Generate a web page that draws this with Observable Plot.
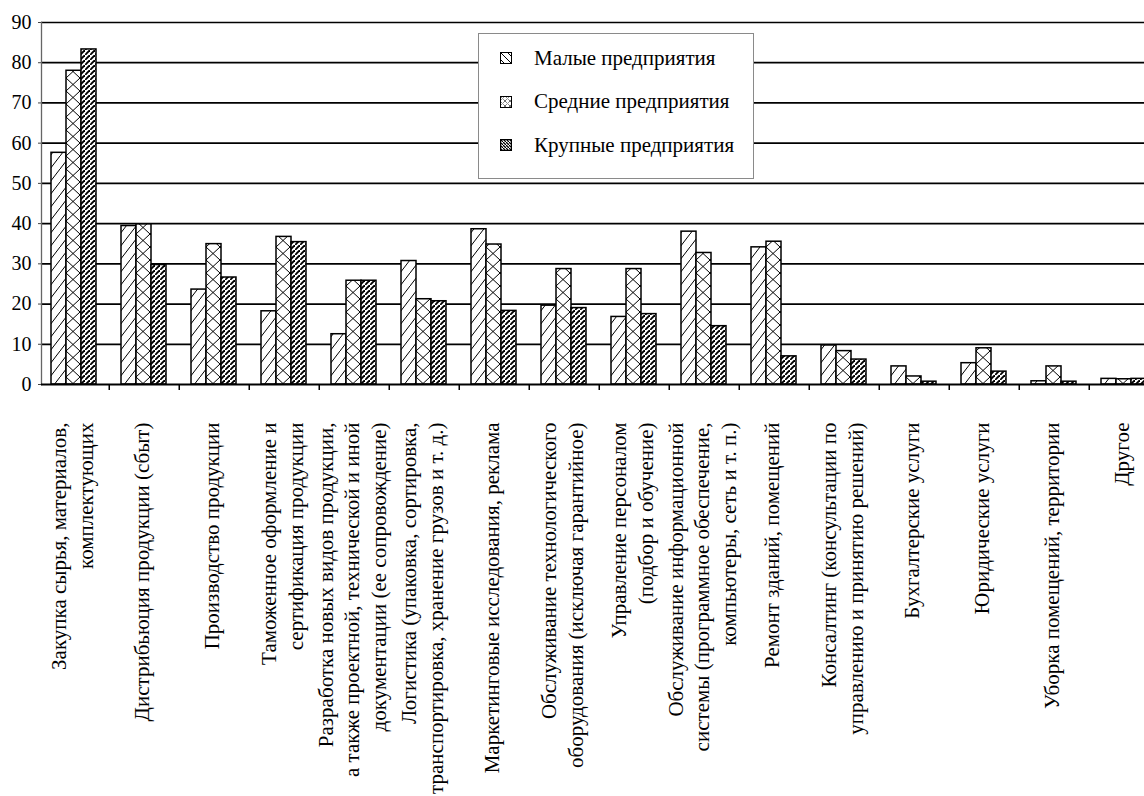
<!DOCTYPE html>
<html><head><meta charset="utf-8">
<script src="https://cdn.jsdelivr.net/npm/d3@7"></script>
<script src="https://cdn.jsdelivr.net/npm/@observablehq/plot@0.6"></script>
<style>
html,body{margin:0;padding:0;background:#fff;overflow:hidden;}
#wrap{position:relative;width:1144px;height:796px;overflow:hidden;}
#wrap > svg{position:absolute;left:0;top:0;}
#wrap svg text{font-family:"Liberation Serif","Tinos","Times New Roman","Times","Nimbus Roman","Nimbus Roman No9 L","FreeSerif","Noto Serif","DejaVu Serif",serif !important;}
#legend{position:absolute;left:478px;top:33px;width:276px;height:146px;border:1px solid #8a8a8a;background:#fff;box-sizing:border-box;font-family:"Liberation Serif","Tinos","Times New Roman","Times","Nimbus Roman","Nimbus Roman No9 L","FreeSerif","Noto Serif","DejaVu Serif",serif;font-size:21px;color:#000;}
.row{position:absolute;left:21px;height:24px;display:flex;align-items:center;white-space:nowrap;}
.row svg{margin-right:22px;display:block}
</style></head><body><div id="wrap"></div>
<script>
const categories = [
  "Закупка сырья, материалов,\nкомплектующих",
  "Дистрибьюция продукции (сбыт)",
  "Производство продукции",
  "Таможенное оформление и\nсертификация продукции",
  "Разработка новых видов продукции,\nа также проектной, технической и иной\nдокументации (ее сопровождение)",
  "Логистика (упаковка, сортировка,\nтранспортировка, хранение грузов и т. д.)",
  "Маркетинговые исследования, реклама",
  "Обслуживание технологического\nоборудования (исключая гарантийное)",
  "Управление персоналом\n(подбор и обучение)",
  "Обслуживание информационной\nсистемы (программное обеспечение,\nкомпьютеры, сеть и т. п.)",
  "Ремонт зданий, помещений",
  "Консалтинг (консультации по\nуправлению и принятию решений)",
  "Бухгалтерские услуги",
  "Юридические услуги",
  "Уборка помещений, территории",
  "Другое"
];
const series = ["Малые предприятия", "Средние предприятия", "Крупные предприятия"];
const small  = [57.6, 39.4, 23.6, 18.2, 12.5, 30.7, 38.6, 19.6, 16.8, 38.0, 34.1, 9.7, 4.5, 5.3, 0.8, 1.4];
const medium = [78.0, 39.8, 34.9, 36.7, 25.8, 21.2, 34.8, 28.7, 28.7, 32.7, 35.5, 8.3, 2.0, 9.0, 4.5, 1.3];
const large  = [83.3, 29.7, 26.6, 35.4, 25.8, 20.7, 18.3, 19.0, 17.5, 14.5, 7.0, 6.2, 0.7, 3.2, 0.7, 1.4];
const yTicks = [0, 10, 20, 30, 40, 50, 60, 70, 80, 90];

const values = [small, medium, large];
const data = categories.flatMap((c, i) => series.map((s, j) => ({cat: c, s, v: values[j][i]})));

const FONT = "'Liberation Serif', Tinos, 'Times New Roman', serif";
const W = 1144, H = 796;
const common = {
  width: W, height: H,
  marginTop: 22, marginBottom: 412, marginLeft: 41, marginRight: 0,
  y: {domain: [0, 90], axis: null}
};
const catRange = [35, 1163];
const step = (catRange[1] - catRange[0]) / categories.length;

// background: grid, y axis, category boundary ticks
const back = Plot.plot({
  ...common,
  style: {fontFamily: FONT, fontSize: "20px", background: "white", color: "black"},
  x: {type: "band", domain: categories, range: catRange, padding: 0, axis: null},
  marks: [
    Plot.ruleY(yTicks.slice(1), {stroke: "black", strokeWidth: 1.7}),
    Plot.axisY({ticks: yTicks, tickSize: 3, tickPadding: 7, label: null, fontSize: 20, stroke: "#444"}),
    Plot.frame({anchor: "left", stroke: "#666", strokeWidth: 1.3}),
    Plot.axisX({ticks: categories.slice(1), tickSize: 6, dx: -step / 2, tickFormat: () => "", label: null, strokeWidth: 1.5})
  ]
});

// foreground: grouped bars + category labels
const front = Plot.plot({
  ...common,
  style: {fontFamily: FONT, fontSize: "20px", background: "transparent", color: "black"},
  fx: {domain: categories, range: catRange, paddingInner: 0.353, paddingOuter: 0.1765, axis: null, label: null},
  x: {domain: series, padding: 0, axis: null},
  color: {domain: series, range: ["url(#pSmall)", "url(#pMed)", "url(#pLarge)"]},
  marks: [
    Plot.barY(data, {fx: "cat", x: "s", y: "v", fill: "s", stroke: "black", strokeWidth: 1.5}),
    Plot.text(categories, {fx: d => d, text: d => d, frameAnchor: "bottom", rotate: -90, textAnchor: "end", lineAnchor: "middle", dy: 38, dx: -3, fontSize: 21, lineHeight: 1.25, fill: "black"})
  ]
});

// zero baseline on top of bars
const base = Plot.plot({
  ...common,
  style: {background: "transparent"},
  marks: [Plot.ruleY([0], {stroke: "black", strokeWidth: 2})]
});

const NS = "http://www.w3.org/2000/svg";
const defs = document.createElementNS(NS, "defs");
defs.innerHTML = `
<pattern id="pSmall" patternUnits="userSpaceOnUse" width="10" height="13">
  <rect width="10" height="13" fill="white"/>
  <line x1="0" y1="13" x2="10" y2="0" stroke="black" stroke-width="1"/>
</pattern>
<pattern id="pMed" patternUnits="userSpaceOnUse" width="14" height="13">
  <rect width="14" height="13" fill="white"/>
  <line x1="0" y1="0" x2="14" y2="13" stroke="black" stroke-width="1"/>
  <line x1="0" y1="13" x2="14" y2="0" stroke="black" stroke-width="1"/>
</pattern>
<pattern id="pLarge" patternUnits="userSpaceOnUse" width="5" height="5">
  <rect width="5" height="5" fill="white"/>
  <line x1="-1" y1="6" x2="6" y2="-1" stroke="black" stroke-width="1.9"/>
</pattern>`;
front.prepend(defs);
const wrap = document.getElementById("wrap");
wrap.appendChild(back);
wrap.appendChild(front);
wrap.appendChild(base);

const legend = document.createElement("div");
legend.id = "legend";
wrap.appendChild(legend);
const swatchDefs = [
  `<pattern id="lSmall" patternUnits="userSpaceOnUse" width="7" height="7"><rect width="7" height="7" fill="white"/><line x1="0" y1="0" x2="7" y2="7" stroke="black" stroke-width="1"/></pattern>`,
  `<pattern id="lMed" patternUnits="userSpaceOnUse" width="5" height="5"><rect width="5" height="5" fill="white"/><line x1="0" y1="0" x2="5" y2="5" stroke="black" stroke-width="0.8" stroke-dasharray="1 1"/><line x1="0" y1="5" x2="5" y2="0" stroke="black" stroke-width="0.8" stroke-dasharray="1 1"/></pattern>`,
  `<pattern id="lLarge" patternUnits="userSpaceOnUse" width="3" height="3"><rect width="3" height="3" fill="white"/><line x1="-1" y1="-1" x2="4" y2="4" stroke="black" stroke-width="1.3"/></pattern>`
];
const ids = ["lSmall", "lMed", "lLarge"];
series.forEach((s, i) => {
  const row = document.createElement("div");
  row.className = "row";
  row.style.top = (12 + i * 43.5) + "px";
  row.innerHTML = `<svg width="12" height="12"><defs>${swatchDefs[i]}</defs><rect x="0.5" y="0.5" width="11" height="11" fill="url(#${ids[i]})" stroke="black" stroke-width="1"/></svg><span>${s}</span>`;
  legend.appendChild(row);
});
</script>
</body></html>
